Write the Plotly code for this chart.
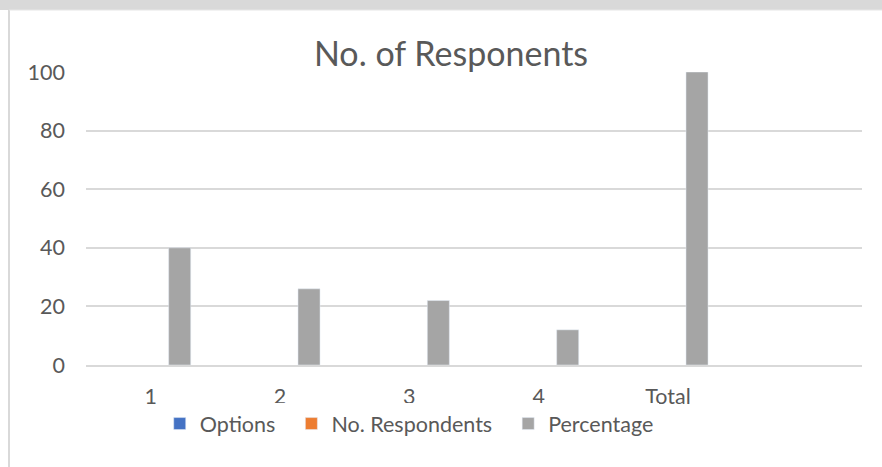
import plotly.graph_objects as go

categories = ["1", "2", "3", "4", "Total", " "]
options_vals = [None, None, None, None, None, None]
respondents_vals = [None, None, None, None, None, None]
percentage_vals = [40, 26, 22, 12, 100, None]
y_ticks = [0, 20, 40, 60, 80, 100]
series_names = ["Options", "No. Respondents", "Percentage"]

FONT = "Lato"
TXT = "#595959"
PAD = "\u00a0\u00a0"

fig = go.Figure()
fig.add_trace(go.Bar(name=series_names[0] + PAD, x=categories, y=options_vals, marker_color="#4472C4"))
fig.add_trace(go.Bar(name=series_names[1] + PAD, x=categories, y=respondents_vals, marker_color="#ED7D31"))
fig.add_trace(go.Bar(name=series_names[2], x=categories, y=percentage_vals, marker_color="#A5A5A5"))

fig.update_layout(
    width=882, height=467,
    margin=dict(l=86, r=20, t=72, b=102),
    paper_bgcolor="white", plot_bgcolor="white",
    barmode="group", bargap=0.327, bargroupgap=0.24,
    title=dict(text="No. of Responents", x=(451 - 86) / 776, xanchor="center", xref="paper",
               y=0.885, yanchor="middle", yref="container",
               font=dict(family=FONT, size=34, color=TXT)),
    font=dict(family=FONT, color=TXT),
    legend=dict(orientation="h", x=0.095, xanchor="left", xref="paper",
                y=-0.2, yanchor="middle", font=dict(family=FONT, size=21.5, color=TXT),
                itemclick=False),
    showlegend=True,
)
fig.update_xaxes(type="category", categoryorder="array", categoryarray=categories,
                 showgrid=False, showline=True, linecolor="#D9D9D9", linewidth=2,
                 ticks="", tickfont=dict(family=FONT, size=21.5, color=TXT),
                 ticklabelstandoff=11, zeroline=False)
fig.update_yaxes(range=[0, 100], tickvals=y_ticks, showgrid=True, gridcolor="#D9D9D9",
                 gridwidth=1.5, showline=False, zeroline=False, ticks="",
                 tickfont=dict(family=FONT, size=21.5, color=TXT), ticklabelstandoff=20)

fig.add_shape(type="rect", xref="paper", yref="paper", x0=-86/776, x1=1+20/776,
              y0=(365-10)/293, y1=(365+5)/293, fillcolor="#D9D9D9", line_width=0, layer="below")
fig.add_shape(type="line", xref="paper", yref="paper", x0=(9-86)/776, x1=(9-86)/776,
              y0=-102/293, y1=(365-10)/293, line=dict(color="#D9D9D9", width=2), layer="below")
fig.add_shape(type="line", xref="paper", yref="paper", x0=(9-86)/776, x1=1+20/776,
              y0=(365-10)/293, y1=(365-10)/293, line=dict(color="#E6E6E6", width=1), layer="below")

fig.write_html("out.html")
